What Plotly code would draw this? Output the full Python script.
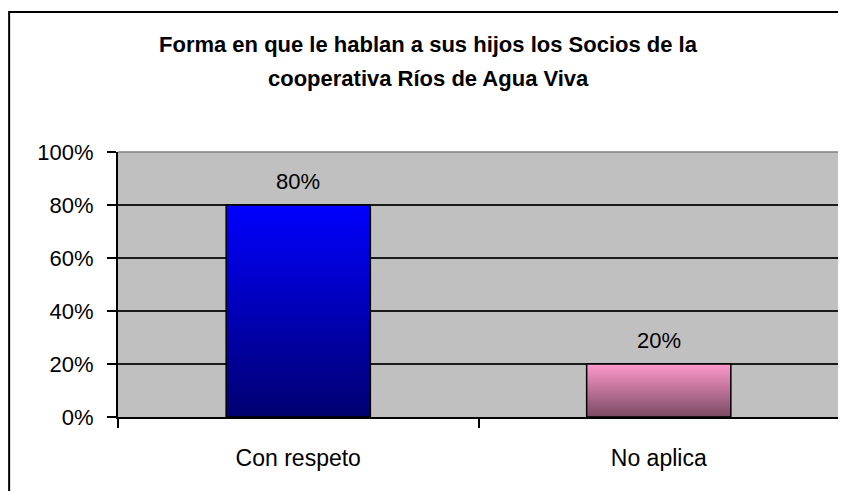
import plotly.graph_objects as go

# Datos del gráfico
categorias = ["Con respeto", "No aplica"]
porcentajes = [80, 20]
color_arriba = ["#0000FF", "#FF99CC"]
color_abajo = ["#000070", "#7A4A62"]
y_ticks = [0, 20, 40, 60, 80, 100]
y_ticktext = ["0%", "20%", "40%", "60%", "80%", "100%"]

ancho = 0.4
fuente = "Liberation Sans, Arial"
fig = go.Figure()

# barras con degradado (polígono relleno sobre el eje numérico)
for i, (cat, val) in enumerate(zip(categorias, porcentajes)):
    fig.add_trace(go.Scatter(
        x=[i - ancho / 2, i - ancho / 2, i + ancho / 2, i + ancho / 2, i - ancho / 2],
        y=[0, val, val, 0, 0],
        mode="lines", fill="toself",
        fillgradient=dict(type="vertical",
                          colorscale=[[0, color_abajo[i]], [1, color_arriba[i]]]),
        line=dict(color="black", width=1.5),
        name=cat, hoverinfo="skip", showlegend=False,
    ))
    # etiqueta de datos
    fig.add_annotation(x=i, y=val, text=f"{val}%", showarrow=False,
                       xanchor="center", yanchor="middle", yshift=24,
                       font=dict(family=fuente, size=22, color="black"))

fig.update_layout(
    width=838, height=483,
    margin=dict(l=110, r=7, t=144, b=74),
    paper_bgcolor="white", plot_bgcolor="#C0C0C0",
    font=dict(family=fuente, size=22, color="black"),
    showlegend=False,
)

fig.update_xaxes(
    range=[-0.5, 1.5], tickvals=list(range(len(categorias))), ticktext=categorias,
    ticks="", showgrid=False, zeroline=False,
    showline=True, linecolor="black", linewidth=1.5,
    minor=dict(tick0=-0.5, dtick=1, ticks="outside", ticklen=9, tickcolor="black", tickwidth=1.5),
    ticklabelstandoff=20,
    tickfont=dict(size=23),
)
fig.update_yaxes(
    range=[0, 100], tickvals=y_ticks, ticktext=y_ticktext,
    ticks="outside", ticklen=9, tickcolor="black", tickwidth=1.5,
    showgrid=True, gridcolor="#1a1a1a", gridwidth=1.5, zeroline=False,
    showline=True, linecolor="black", linewidth=2,
    ticklabelstandoff=9,
)

# borde gris del área de trazado (arriba y derecha)
fig.add_shape(type="line", xref="paper", yref="paper", x0=0, x1=1, y0=1, y1=1,
              line=dict(color="#808080", width=1.5))
fig.add_shape(type="line", xref="paper", yref="paper", x0=1, x1=1, y0=0, y1=1,
              line=dict(color="#808080", width=1.5))

# borde exterior del gráfico
fig.add_shape(type="rect", xref="paper", yref="paper",
              x0=-0.151, x1=1.1, y0=-0.6, y1=1.528,
              line=dict(color="black", width=2))

# título en dos líneas
titulo = ["Forma en que le hablan a sus hijos los Socios de la",
          "cooperativa Ríos de Agua Viva"]
for linea, ypos in zip(titulo, [1.404, 1.279]):
    fig.add_annotation(text="<b>" + linea + "</b>", xref="paper", yref="paper",
                       x=0.43, y=ypos, xanchor="center", yanchor="middle", showarrow=False,
                       font=dict(family=fuente, size=22, color="black"))

fig.write_html("out.html")
